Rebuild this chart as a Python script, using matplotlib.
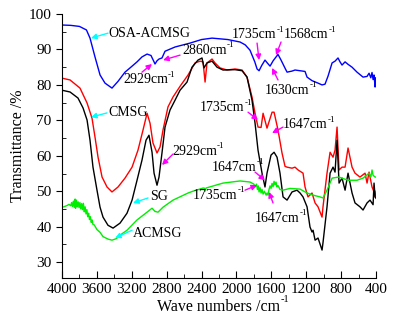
import numpy as np
import matplotlib
matplotlib.use("Agg")
import matplotlib.pyplot as plt
from matplotlib.ticker import MultipleLocator

plt.rcParams["font.family"] = ["Liberation Serif", "DejaVu Serif"]

# OSA-ACMSG (blue)
wn_osa = [4000, 3900, 3800, 3720, 3679, 3622, 3564, 3507, 3427, 3358, 3278, 3220, 3140, 3083,
          3025, 2980, 2945, 2934, 2911, 2888, 2854, 2819, 2704, 2532, 2400, 2280, 2100, 1959,
          1900, 1845, 1790, 1764, 1741, 1710, 1673, 1640, 1615, 1580, 1524, 1489, 1443, 1420,
          1363, 1329, 1271, 1214, 1191, 1134, 1065, 1019, 985, 950, 904, 870, 836, 813, 790,
          755, 721, 675, 618, 549, 503, 480, 460, 446, 434, 423, 411, 405, 400]
t_osa = [96.9, 96.8, 96.5, 95.5, 93.2, 87.9, 82.8, 80.5, 79.1, 81.0, 83.6, 84.8, 86.5, 87.9,
         88.7, 88.3, 86.5, 85.9, 86.8, 87.3, 87.6, 89.5, 90.7, 91.8, 92.8, 93.2, 92.8, 92.1,
         91.3, 89.8, 86.5, 84.5, 84.0, 85.5, 87.0, 86.0, 85.3, 86.8, 88.6, 87.0, 84.7, 83.6,
         83.9, 84.2, 84.0, 83.8, 82.2, 81.2, 80.5, 80.0, 80.2, 82.5, 86.2, 86.7, 87.6, 86.5, 85.6,
         86.5, 85.8, 85.0, 83.6, 82.2, 82.4, 83.3, 82.0, 83.5, 81.5, 82.8, 79.4, 82.0, 80.0]

# CMSG (red)
wn_cmsg = [4000, 3908, 3794, 3713, 3656, 3622, 3587, 3541, 3484, 3427, 3358, 3278, 3197, 3129,
           3071, 3025, 2991, 2957, 2911, 2876, 2842, 2785, 2727, 2647, 2555, 2475, 2418, 2383,
           2360, 2338, 2280, 2246, 2189, 2108, 2017, 1936, 1879, 1822, 1787, 1753, 1718, 1695,
           1650, 1592, 1569, 1524, 1478, 1443, 1420, 1363, 1329, 1294, 1237, 1214, 1180, 1134,
           1099, 1065, 1019, 1008, 962, 927, 893, 870, 847, 824, 790, 755, 721, 675, 641, 584,
           526, 503, 480, 446, 423, 411, 400]
t_cmsg = [81.9, 81.4, 79.1, 74.9, 70.6, 65.3, 59.6, 54.0, 51.2, 49.8, 51.2, 53.7, 56.8, 61.6,
          67.3, 72.0, 69.2, 63.6, 60.8, 62.5, 67.3, 73.8, 76.6, 79.6, 82.8, 86.2, 86.7, 86.5,
          80.8, 86.2, 87.3, 86.2, 84.8, 84.2, 84.5, 84.2, 82.2, 76.6, 72.0, 68.1, 68.0, 72.0,
          67.8, 72.3, 72.3, 67.3, 60.8, 57.0, 56.8, 56.5, 56.8, 56.0, 55.1, 51.2, 48.4, 49.5,
          46.7, 45.6, 42.7, 45.6, 55.1, 61.0, 59.6, 61.6, 68.1, 56.0, 56.8, 56.8, 62.2, 56.8,
          55.1, 54.0, 55.1, 52.3, 55.4, 51.2, 49.8, 48.4, 50.0]

# SG (black)
wn_sg = [4000, 3908, 3817, 3759, 3713, 3679, 3645, 3599, 3564, 3530, 3473, 3415, 3335, 3255,
         3197, 3140, 3083, 3037, 3003, 2968, 2945, 2911, 2888, 2854, 2819, 2762, 2704, 2647,
         2567, 2510, 2441, 2395, 2372, 2338, 2280, 2223, 2154, 2017, 1936, 1879, 1822, 1787,
         1753, 1707, 1673, 1650, 1604, 1569, 1535, 1501, 1466, 1420, 1363, 1306, 1271, 1237,
         1191, 1157, 1134, 1122, 1099, 1065, 1019, 1008, 962, 927, 893, 870, 847, 824, 790,
         755, 721, 675, 641, 584, 549, 503, 469, 434, 423, 411, 400]
t_sg = [78.5, 78.0, 76.3, 73.5, 70.1, 64.4, 56.8, 50.3, 45.5, 42.7, 40.4, 39.6, 41.0, 43.8,
        47.5, 53.1, 58.8, 64.4, 65.8, 61.0, 55.1, 51.7, 54.0, 60.8, 68.1, 72.9, 75.7, 78.5,
        80.8, 85.0, 87.0, 87.6, 84.8, 86.2, 86.7, 85.0, 84.2, 84.3, 84.0, 82.2, 75.7, 69.2,
        61.6, 55.1, 51.2, 55.1, 60.2, 61.0, 59.6, 55.1, 48.4, 47.5, 49.8, 50.3, 49.5, 48.4,
        45.6, 39.9, 38.5, 39.0, 36.2, 36.8, 33.4, 35.5, 45.6, 55.1, 56.8, 55.4, 64.4, 52.3, 53.7,
        50.3, 55.1, 49.5, 46.7, 45.6, 44.7, 46.7, 47.5, 46.2, 52.3, 48.4, 48.0]

# ACMSG (green)
wn_acmsg = [4000, 3980, 3960, 3940, 3920, 3900, 3890, 3880, 3870, 3860, 3850, 3845, 3835, 3825,
            3815, 3805, 3795, 3785, 3775, 3765, 3755, 3745, 3735, 3725, 3715, 3705, 3695, 3685,
            3675, 3665, 3655, 3645, 3630, 3600, 3564, 3530, 3473, 3427, 3380, 3335, 3255, 3140,
            3025, 2968, 2934, 2899, 2842, 2727, 2555, 2500, 2383, 2370, 2360, 2350, 2154, 1959,
            1845, 1800, 1787, 1770, 1760, 1750, 1741, 1730, 1718, 1707, 1695, 1680, 1660, 1650,
            1638, 1627, 1615, 1604, 1592, 1581, 1569, 1558, 1547, 1535, 1524, 1501, 1466, 1386,
            1271, 1191, 1122, 1042, 1008, 962, 904, 827, 721, 618, 549, 480, 460, 446, 434, 411, 400]
t_acmsg = [45.5, 45.6, 45.8, 46.0, 46.3, 45.9, 46.8, 45.7, 47.2, 45.5, 47.8, 45.2, 47.5, 45.6,
           47.0, 45.4, 46.8, 45.0, 46.5, 44.8, 46.6, 44.2, 45.6, 43.6, 44.8, 42.8, 43.8, 42.0,
           42.8, 41.2, 41.9, 40.6, 40.5, 39.2, 38.4, 37.2, 36.5, 36.2, 36.6, 37.6, 39.0, 41.9,
           44.1, 45.2, 44.3, 44.1, 45.5, 47.5, 49.5, 50.0, 50.9, 50.9, 50.0, 50.9, 52.3, 52.9,
           52.6, 52.0, 51.2, 52.0, 50.5, 51.5, 49.8, 51.0, 49.5, 50.5, 49.2, 50.0, 48.9, 49.5,
           48.9, 50.5, 51.5, 50.8, 52.2, 51.3, 52.8, 51.8, 52.6, 51.2, 51.6, 50.5, 50.3, 50.8,
           50.6, 49.5, 48.9, 48.4, 48.1, 50.3, 53.7, 54.0, 53.1, 53.1, 53.7, 55.1, 54.0, 56.0, 54.5, 54.0, 54.0]

# labels: text, superscript, text pos, arrow tail, arrow tip, colour
CYAN = "#00ffff"
MAG = "#ff00ff"
notes = [
    ("OSA-ACMSG", "", (3473, 94.6), (3473, 94.6), (3668, 93.2), CYAN),
    ("CMSG", "", (3473, 72.3), (3484, 72.1), (3668, 70.9), CYAN),
    ("SG", "", (2991, 48.6), (3014, 48.1), (3186, 46.7), CYAN),
    ("ACMSG", "", (3186, 38.2), (3197, 39.0), (3392, 36.8), CYAN),
    ("2929cm", "-1", (3301, 81.4), (3083, 83.6), (2968, 85.9), MAG),
    ("2860cm", "-1", (2624, 89.8), (2647, 88.4), (2842, 87.0), MAG),
    ("1735cm", "-1", (2050, 94.1), (1764, 91.8), (1741, 87.0), MAG),
    ("1568cm", "-1", (1455, 94.1), (1489, 92.1), (1547, 88.4), MAG),
    ("1630cm", "-1", (1673, 78.5), (1524, 81.4), (1592, 84.8), MAG),
    ("1735cm", "-1", (2418, 73.5), (1867, 72.3), (1753, 70.1), MAG),
    ("1647cm", "-1", (1466, 68.7), (1466, 68.1), (1592, 66.4), MAG),
    ("2929cm", "-1", (2739, 61.3), (2727, 60.5), (2854, 57.4), MAG),
    ("1647cm", "-1", (2280, 56.8), (1787, 55.4), (1673, 53.1), MAG),
    ("1735cm", "-1", (2498, 48.9), (1902, 50.3), (1764, 51.7), MAG),
    ("1647cm", "-1", (1787, 42.4), (1581, 46.7), (1627, 49.8), MAG),
]

fig = plt.figure(figsize=(3.95, 3.26), dpi=100)
ax = fig.add_axes([0.157, 0.147, 0.795, 0.810])

ax.plot(wn_osa, t_osa, color="#0000ff", lw=1)
ax.plot(wn_cmsg, t_cmsg, color="#ff0000", lw=1)
ax.plot(wn_sg, t_sg, color="black", lw=1)
ax.plot(wn_acmsg, t_acmsg, color="#00ee00", lw=1)

for txt, sup, tpos, tail, tip, col in notes:
    t = ax.text(tpos[0], tpos[1], txt, fontsize=10, ha="left", va="center")
    if sup:
        ax.annotate(sup, xy=(1.0, 0.9), xycoords=t, fontsize=6.5, ha="left", va="center")
    ax.annotate("", xy=tip, xytext=tail,
                arrowprops=dict(arrowstyle="-|>", color=col, lw=1, mutation_scale=8,
                                shrinkA=0, shrinkB=0))

ax.set_xlim(4000, 400)
ax.set_ylim(25.5, 100)
ax.set_xticks(np.arange(4000, 399, -400))
ax.set_yticks(np.arange(30, 101, 10))
ax.xaxis.set_minor_locator(MultipleLocator(200))
ax.yaxis.set_minor_locator(MultipleLocator(5))
ax.tick_params(axis="x", which="major", direction="in", length=5, labelsize=11)
ax.tick_params(axis="x", which="minor", direction="in", length=3)
ax.tick_params(axis="y", which="major", direction="out", length=4, labelsize=11)
ax.tick_params(axis="y", which="minor", direction="in", length=3)
ax.spines["top"].set_visible(False)
ax.spines["right"].set_visible(False)

xl = ax.set_xlabel("Wave numbers /cm", fontsize=11.5, labelpad=2)
ax.annotate("-1", xy=(1.0, 0.95), xycoords=xl, fontsize=7.5, ha="left", va="center")
ax.set_ylabel("Transmittance /%", fontsize=11.5, labelpad=2)

fig.savefig("out.png", dpi=100)
